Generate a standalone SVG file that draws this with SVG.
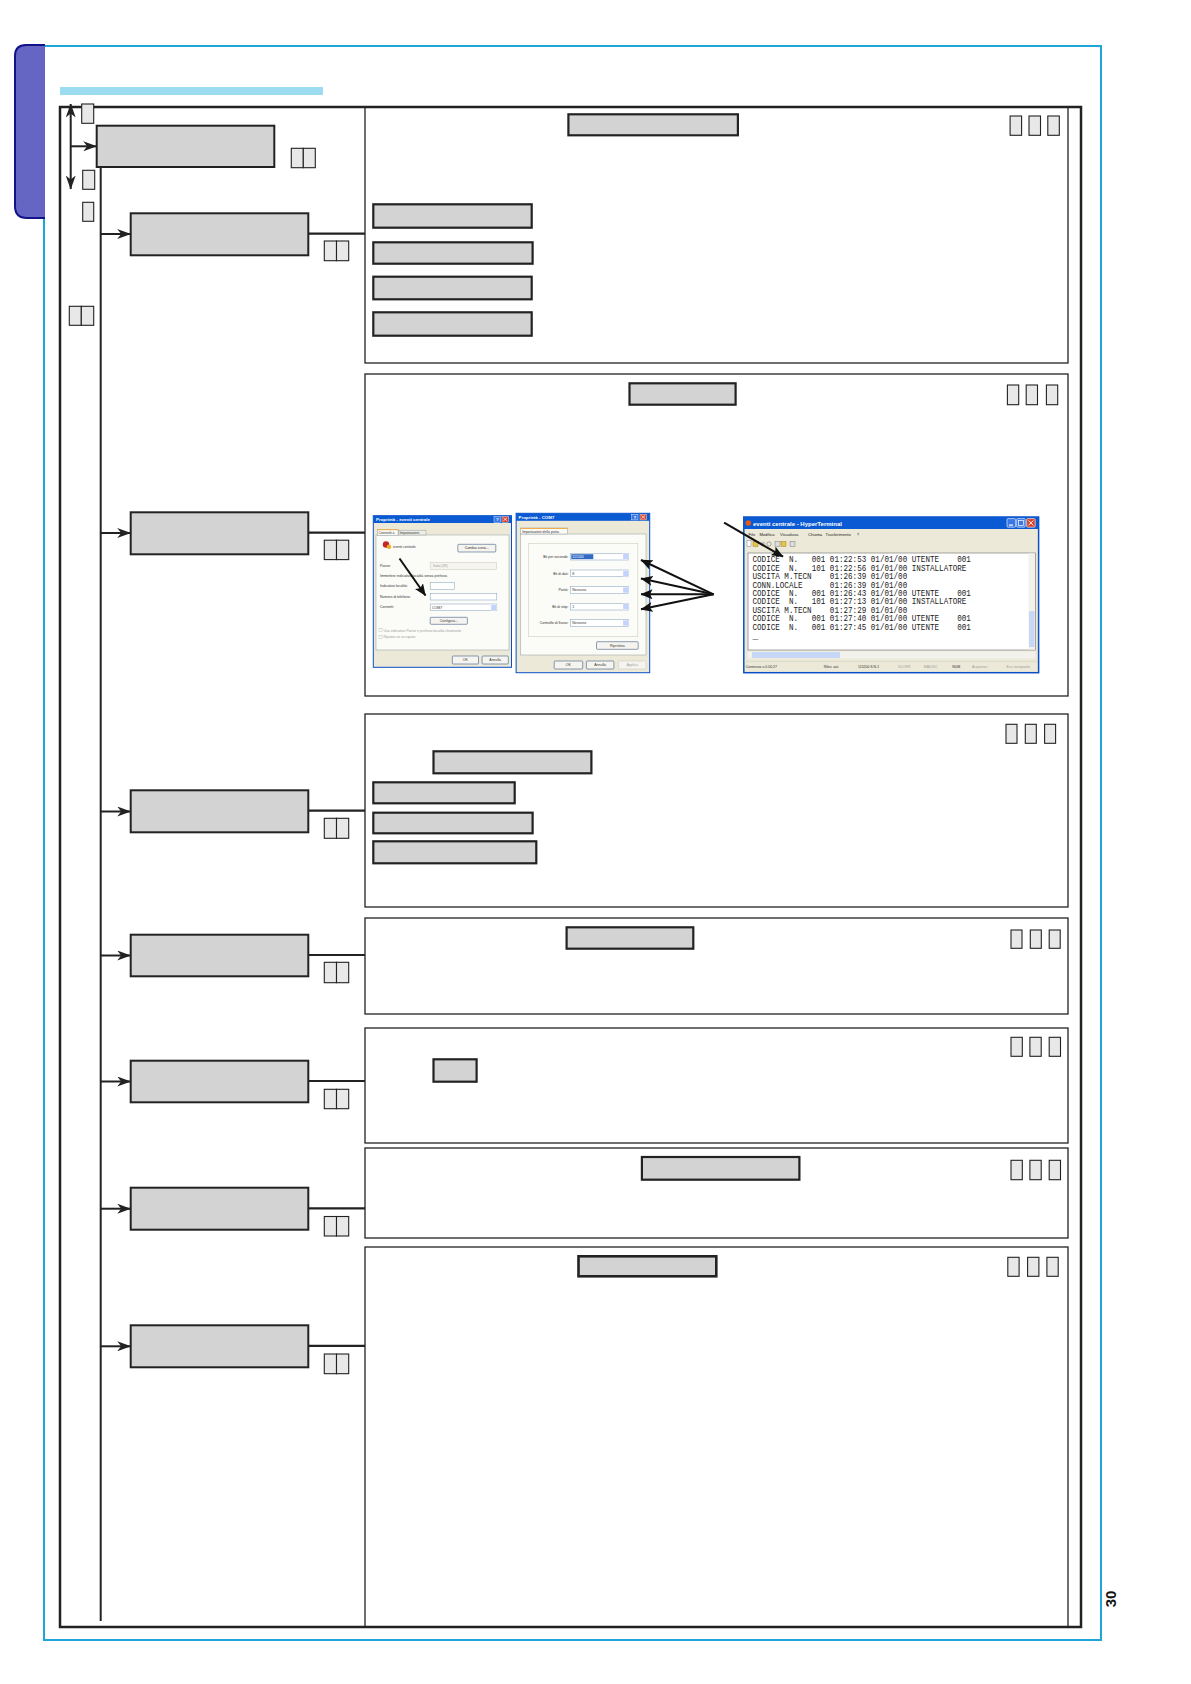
<svg xmlns="http://www.w3.org/2000/svg" width="1191" height="1684" viewBox="0 0 1191 1684">
<defs>
<style>
.node{fill:#d3d3d3;stroke:#222;stroke-width:2}
.btn{fill:#d3d3d3;stroke:#222;stroke-width:2.2}
.sm{fill:#e8e8e8;stroke:#222;stroke-width:1.1}
.panel{fill:none;stroke:#222;stroke-width:1.3}
.line{stroke:#222;stroke-width:2;fill:none}
.ptr{stroke:#111;stroke-width:2;fill:none}
.win{fill:#ece9d8;stroke:#0b4fc4;stroke-width:1}
.tbar{fill:#0a5ad4}
.ttl{font-family:"Liberation Sans",Arial,sans-serif;font-size:4.4px;font-weight:bold;fill:#fff}
.ui{font-family:"Liberation Sans",Arial,sans-serif;font-size:3.5px;fill:#333}
.uig{font-family:"Liberation Sans",Arial,sans-serif;font-size:3.5px;fill:#a0a0a0}
.mn{font-family:"Liberation Sans",Arial,sans-serif;font-size:4.1px;fill:#222}
.xpb{fill:#f5f4ef;stroke:#1f3f73;stroke-width:0.5}
.fld{fill:#fff;stroke:#7f9db9;stroke-width:0.5}
.dd{fill:#c3d3fd;stroke:#fff;stroke-width:0.3}
.tab{fill:#fbfbf8;stroke:#919b9c;stroke-width:0.5}
.term{font-family:"Liberation Mono","DejaVu Sans Mono",monospace;font-size:9.5px;fill:#1a1a1a;white-space:pre}
.pg{font-family:"Liberation Sans",Arial,sans-serif;font-size:15px;font-weight:bold;fill:#111}
</style>
<marker id="ah" viewBox="0 0 14 10" refX="13.5" refY="5" markerWidth="14" markerHeight="10" markerUnits="userSpaceOnUse" orient="auto-start-reverse"><path d="M0,0 L14,5 L0,10 L4,5 Z" fill="#222"/></marker>
<marker id="ah2" viewBox="0 0 12 10" refX="11.5" refY="5" markerWidth="12" markerHeight="10" markerUnits="userSpaceOnUse" orient="auto"><path d="M0,0 L12,5 L0,10 L2.5,5 Z" fill="#111"/></marker>
</defs>
<rect x="0" y="0" width="1191" height="1684" fill="#fff"/>

<g id="page-frame">
<rect x="44" y="46" width="1057" height="1594" fill="none" stroke="#1fa6d8" stroke-width="2"/>
<path d="M45,45 L26,45 Q15,45 15,56 L15,206 Q15,218 27,218 L45,218 Z" fill="#6565c3" stroke="none"/>
<path d="M45,45 L26,45 Q15,45 15,56 L15,206 Q15,218 27,218 L45,218" fill="none" stroke="#12128a" stroke-width="2"/>
<rect x="60" y="87" width="263" height="8" fill="#9bdcf1"/>
<rect x="60" y="107" width="1021" height="1520" fill="none" stroke="#222" stroke-width="2.5"/>
<text class="pg" transform="translate(1116,1599) rotate(-90)" text-anchor="middle">30</text>
</g>

<g id="panel1">
<rect class="panel" x="365" y="107" width="703" height="256"/>
<rect class="btn" x="568.4" y="114.3" width="169.5" height="21"/>
<rect class="sm" x="1010.1" y="116" width="11.5" height="19.3"/>
<rect class="sm" x="1029" y="116" width="11.5" height="19.3"/>
<rect class="sm" x="1047.8" y="116" width="11.5" height="19.3"/>
<rect class="btn" x="373.3" y="204.3" width="158.4" height="23.4"/>
<rect class="btn" x="373.3" y="242.3" width="159.3" height="21.4"/>
<rect class="btn" x="373.3" y="276.7" width="158.4" height="22.6"/>
<rect class="btn" x="373.3" y="312.3" width="158.4" height="23.4"/>
</g>

<g id="panel2">
<rect class="panel" x="365" y="374" width="703" height="322"/>
<rect class="btn" x="629.5" y="383.3" width="106.1" height="21.4"/>
<rect class="sm" x="1007.4" y="385" width="11.3" height="19.7"/>
<rect class="sm" x="1026.2" y="385" width="11.3" height="19.7"/>
<rect class="sm" x="1046.4" y="385" width="11.3" height="19.7"/>

<g id="win1">
<rect class="win" x="373.3" y="515.7" width="138.2" height="151.6"/>
<rect class="tbar" x="373.3" y="515.7" width="138.2" height="7.3"/>
<text class="ttl" x="376" y="521.2">Proprietà - eventi centrale</text>
<rect x="494" y="516.5" width="6.5" height="5.7" fill="#3a77e6" stroke="#fff" stroke-width="0.4"/>
<text class="ttl" x="497.25" y="521.2" text-anchor="middle">?</text>
<rect x="502" y="516.5" width="6.5" height="5.7" fill="#d8442a" stroke="#fff" stroke-width="0.4"/>
<path d="M503.4,517.8 L507.1,520.9 M507.1,517.8 L503.4,520.9" stroke="#fff" stroke-width="0.7"/>
<rect class="tab" x="376" y="535" width="133" height="115"/>
<rect class="tab" x="377.4" y="529.3" width="20.7" height="5.9"/>
<rect x="377.4" y="529.3" width="20.7" height="0.9" fill="#f2a83a"/>
<text class="ui" x="378.6" y="533.9">Connetti a</text>
<rect x="398.5" y="530.2" width="27.5" height="4.8" fill="#efeee6" stroke="#919b9c" stroke-width="0.5"/>
<text class="ui" x="399.6" y="534">Impostazioni</text>
<circle cx="386" cy="544.5" r="3.2" fill="#c62828"/>
<circle cx="389" cy="546.8" r="2.2" fill="#e8b020"/>
<text class="ui" x="393" y="548.3">eventi centrale</text>
<rect class="xpb" x="457.8" y="544.3" width="38" height="7.7" rx="1"/>
<text class="ui" x="476.8" y="549.4" text-anchor="middle">Cambia icona...</text>
<text class="ui" x="380" y="567.3">Paese:</text>
<rect x="430.2" y="562.7" width="66.2" height="6.6" fill="#f5f4ee" stroke="#c9c7ba" stroke-width="0.5"/>
<text class="uig" x="433" y="567.3">Italia (39)</text>
<text class="ui" x="380" y="577">Immettere indicativo località senza prefisso.</text>
<text class="ui" x="380" y="587.3">Indicativo località:</text>
<rect class="fld" x="430.2" y="582.7" width="24.4" height="6.6"/>
<text class="ui" x="380" y="597.7">Numero di telefono:</text>
<rect class="fld" x="430.2" y="593.3" width="66.6" height="6.7"/>
<text class="ui" x="380" y="608">Connetti:</text>
<rect class="fld" x="430.2" y="604" width="66.6" height="6.7"/>
<text class="ui" x="432" y="608.6">COM7</text>
<rect class="dd" x="491" y="604.5" width="5.4" height="5.7"/>
<rect class="xpb" x="430.2" y="617.3" width="37.2" height="7" rx="1"/>
<text class="ui" x="448.8" y="622" text-anchor="middle">Configura...</text>
<rect x="379" y="628.8" width="3" height="3" fill="#fff" stroke="#b0b0b0" stroke-width="0.4"/>
<text class="uig" x="383.5" y="631.7">Usa indicativo Paese e prefisso località chiamante</text>
<rect x="379" y="635.4" width="3" height="3" fill="#fff" stroke="#b0b0b0" stroke-width="0.4"/>
<text class="uig" x="383.5" y="638.3">Riprova se occupato</text>
<rect class="xpb" x="452.3" y="656" width="26.2" height="8" rx="1"/>
<text class="ui" x="465.4" y="661.2" text-anchor="middle">OK</text>
<rect class="xpb" x="482.1" y="656" width="26.2" height="8" rx="1"/>
<text class="ui" x="495.2" y="661.2" text-anchor="middle">Annulla</text>
</g>

<g id="win2">
<rect class="win" x="516.1" y="513.3" width="133.6" height="159.4"/>
<rect class="tbar" x="516.1" y="513.3" width="133.6" height="7.5"/>
<text class="ttl" x="518.5" y="519">Proprietà - COM7</text>
<rect x="631.5" y="514.2" width="6.5" height="5.7" fill="#3a77e6" stroke="#fff" stroke-width="0.4"/>
<text class="ttl" x="634.75" y="519" text-anchor="middle">?</text>
<rect x="640" y="514.2" width="6.5" height="5.7" fill="#d8442a" stroke="#fff" stroke-width="0.4"/>
<path d="M641.4,515.5 L645.1,518.6 M645.1,515.5 L641.4,518.6" stroke="#fff" stroke-width="0.7"/>
<rect class="tab" x="520.7" y="534" width="125.3" height="121"/>
<rect class="tab" x="520.7" y="528" width="46.8" height="6"/>
<rect x="520.7" y="528" width="46.8" height="0.9" fill="#f2a83a"/>
<text class="ui" x="522" y="532.6">Impostazioni della porta</text>
<rect x="528.5" y="543.3" width="109.3" height="93.4" fill="none" stroke="#d0d0bf" stroke-width="0.6"/>
<text class="ui" x="568.5" y="558" text-anchor="end">Bit per secondo:</text>
<text class="ui" x="568.5" y="574.7" text-anchor="end">Bit di dati:</text>
<text class="ui" x="568.5" y="591.4" text-anchor="end">Parità:</text>
<text class="ui" x="568.5" y="608" text-anchor="end">Bit di stop:</text>
<text class="ui" x="568.5" y="624.4" text-anchor="end">Controllo di flusso:</text>
<rect class="fld" x="570.3" y="553.3" width="58.3" height="6.7"/>
<rect x="571.3" y="554.2" width="22" height="4.9" fill="#316ac5"/>
<text class="ui" x="572.3" y="558" style="fill:#fff">115200</text>
<rect class="dd" x="623" y="553.8" width="5.2" height="5.7"/>
<rect class="fld" x="570.3" y="570" width="58.3" height="6.7"/>
<text class="ui" x="572.3" y="574.7">8</text>
<rect class="dd" x="623" y="570.5" width="5.2" height="5.7"/>
<rect class="fld" x="570.3" y="586.7" width="58.3" height="6.7"/>
<text class="ui" x="572.3" y="591.4">Nessuno</text>
<rect class="dd" x="623" y="587.2" width="5.2" height="5.7"/>
<rect class="fld" x="570.3" y="603.3" width="58.3" height="6.7"/>
<text class="ui" x="572.3" y="608">1</text>
<rect class="dd" x="623" y="603.8" width="5.2" height="5.7"/>
<rect class="fld" x="570.3" y="619.6" width="58.3" height="6.7"/>
<text class="ui" x="572.3" y="624.4">Nessuno</text>
<rect class="dd" x="623" y="620.1" width="5.2" height="5.7"/>
<rect class="xpb" x="596.5" y="641.7" width="41.7" height="7.6" rx="1"/>
<text class="ui" x="617.3" y="646.7" text-anchor="middle">Ripristina</text>
<rect class="xpb" x="554.2" y="661" width="28.5" height="8" rx="1"/>
<text class="ui" x="568.4" y="666.2" text-anchor="middle">OK</text>
<rect class="xpb" x="586.4" y="661" width="27.5" height="8" rx="1"/>
<text class="ui" x="600.1" y="666.2" text-anchor="middle">Annulla</text>
<rect x="618.5" y="661" width="27.5" height="8" rx="1" fill="#f5f4ef" stroke="#c9c7ba" stroke-width="0.5"/>
<text class="uig" x="632.2" y="666.2" text-anchor="middle">Applica</text>
</g>

<g id="win3">
<rect x="743.8" y="517" width="294.8" height="155.7" fill="#ece9d8" stroke="#0b4fc4" stroke-width="1.5"/>
<rect class="tbar" x="743.8" y="517" width="294.8" height="12"/>
<circle cx="748.3" cy="523" r="2.8" fill="#e05a1e"/>
<text class="ttl" x="753" y="525.6" style="font-size:6px">eventi centrale - HyperTerminal</text>
<rect x="1007" y="518.6" width="8.6" height="8.6" rx="1" fill="#3a77e6" stroke="#fff" stroke-width="0.6"/>
<rect x="1009" y="524.5" width="4" height="1.2" fill="#fff"/>
<rect x="1016.6" y="518.6" width="8.6" height="8.6" rx="1" fill="#3a77e6" stroke="#fff" stroke-width="0.6"/>
<rect x="1018.4" y="520.4" width="5" height="5" fill="none" stroke="#fff" stroke-width="0.7"/>
<rect x="1026.6" y="518.6" width="8.6" height="8.6" rx="1" fill="#d8442a" stroke="#fff" stroke-width="0.6"/>
<path d="M1028.5,520.5 L1033.3,525.3 M1033.3,520.5 L1028.5,525.3" stroke="#fff" stroke-width="0.9"/>
<text class="mn" x="748.6" y="536">File</text>
<text class="mn" x="759.4" y="536">Modifica</text>
<text class="mn" x="780" y="536">Visualizza</text>
<text class="mn" x="808" y="536">Chiama</text>
<text class="mn" x="825.6" y="536">Trasferimento</text>
<text class="mn" x="856.7" y="536">?</text>
<rect x="747" y="540.5" width="4" height="6" fill="#fff" stroke="#666" stroke-width="0.4"/>
<rect x="753" y="541.5" width="5" height="5" fill="#e6c34a" stroke="#8a6d1a" stroke-width="0.4"/>
<circle cx="763" cy="544" r="2.2" fill="#bbb"/>
<circle cx="769" cy="544" r="2.2" fill="none" stroke="#777" stroke-width="0.6"/>
<rect x="775" y="541.5" width="5" height="5" fill="#dcdcdc" stroke="#666" stroke-width="0.4"/>
<rect x="781" y="541.5" width="5" height="5" fill="#e6c34a" stroke="#8a6d1a" stroke-width="0.4"/>
<rect x="790" y="541.5" width="5" height="5" fill="#dcdcdc" stroke="#666" stroke-width="0.4"/>
<rect x="748" y="553" width="287.5" height="97" fill="#fff" stroke="#7f7f7f" stroke-width="0.7"/>
<rect x="1028.5" y="553.5" width="6.5" height="96" fill="#f3f1ec"/>
<rect x="1029" y="611" width="5.5" height="36" fill="#c7d7f7"/>
<rect x="748" y="651.5" width="287.5" height="7" fill="#f3f1ec"/>
<rect x="752" y="652" width="88" height="6" fill="#c7d7f7"/>
<line x1="744" y1="661.3" x2="1038" y2="661.3" stroke="#c9c7ba" stroke-width="0.5"/>
<text class="ui" x="745.7" y="668">Connesso a 0.00.27</text>
<text class="ui" x="823.7" y="668">Rilev. aut.</text>
<text class="ui" x="858" y="668">115200 8-N-1</text>
<text class="uig" x="898" y="668">SCORR</text>
<text class="uig" x="923.8" y="668">MAIUSC</text>
<text class="ui" x="952.3" y="668">NUM</text>
<text class="uig" x="972" y="668">Acquisisci</text>
<text class="uig" x="1006.5" y="668">Eco stampante</text>
<g id="terminal-text">
<text class="term" xml:space="preserve" x="752.5" y="562.3" textLength="218.4" lengthAdjust="spacingAndGlyphs">CODICE  N.   001 01:22:53 01/01/00 UTENTE    001</text>
<text class="term" xml:space="preserve" x="752.5" y="570.7" textLength="213.9" lengthAdjust="spacingAndGlyphs">CODICE  N.   101 01:22:56 01/01/00 INSTALLATORE</text>
<text class="term" xml:space="preserve" x="752.5" y="579.1" textLength="154.7" lengthAdjust="spacingAndGlyphs">USCITA M.TECN    01:26:39 01/01/00</text>
<text class="term" xml:space="preserve" x="752.5" y="587.6" textLength="154.7" lengthAdjust="spacingAndGlyphs">CONN.LOCALE      01:26:39 01/01/00</text>
<text class="term" xml:space="preserve" x="752.5" y="596" textLength="218.4" lengthAdjust="spacingAndGlyphs">CODICE  N.   001 01:26:43 01/01/00 UTENTE    001</text>
<text class="term" xml:space="preserve" x="752.5" y="604.4" textLength="213.9" lengthAdjust="spacingAndGlyphs">CODICE  N.   101 01:27:13 01/01/00 INSTALLATORE</text>
<text class="term" xml:space="preserve" x="752.5" y="612.8" textLength="154.7" lengthAdjust="spacingAndGlyphs">USCITA M.TECN    01:27:29 01/01/00</text>
<text class="term" xml:space="preserve" x="752.5" y="621.2" textLength="218.4" lengthAdjust="spacingAndGlyphs">CODICE  N.   001 01:27:40 01/01/00 UTENTE    001</text>
<text class="term" xml:space="preserve" x="752.5" y="629.7" textLength="218.4" lengthAdjust="spacingAndGlyphs">CODICE  N.   001 01:27:45 01/01/00 UTENTE    001</text>
<text class="term" x="752.5" y="639">_</text>
</g>
</g>

<g id="pointers">
<line class="ptr" x1="399.5" y1="558.5" x2="425.5" y2="595.5" marker-end="url(#ah2)"/>
<line class="ptr" x1="713.5" y1="594.3" x2="641" y2="560" marker-end="url(#ah2)"/>
<line class="ptr" x1="713.5" y1="594.3" x2="641" y2="578.5" marker-end="url(#ah2)"/>
<line class="ptr" x1="713.5" y1="594.3" x2="641" y2="594.3" marker-end="url(#ah2)"/>
<line class="ptr" x1="713.5" y1="594.3" x2="641" y2="609.3" marker-end="url(#ah2)"/>
<line class="ptr" x1="724.1" y1="522.7" x2="783" y2="556.7" marker-end="url(#ah2)"/>
</g>
</g>

<g id="panel3">
<rect class="panel" x="365" y="714" width="703" height="193"/>
<rect class="sm" x="1006" y="724.3" width="11" height="19"/>
<rect class="sm" x="1025.3" y="724.3" width="11" height="19"/>
<rect class="sm" x="1044.6" y="724.3" width="11" height="19"/>
<rect class="btn" x="433.5" y="751.3" width="157.9" height="22"/>
<rect class="btn" x="373.3" y="782.3" width="141.4" height="21"/>
<rect class="btn" x="373.3" y="812.7" width="159.3" height="20.6"/>
<rect class="btn" x="373.3" y="841.3" width="163" height="22"/>
</g>

<g id="panel4">
<rect class="panel" x="365" y="918" width="703" height="96"/>
<rect class="btn" x="566.6" y="927.3" width="126.7" height="21.4"/>
<rect class="sm" x="1011" y="930" width="11" height="18.3"/>
<rect class="sm" x="1030.3" y="930" width="11" height="18.3"/>
<rect class="sm" x="1049.2" y="930" width="11" height="18.3"/>
</g>

<g id="panel5">
<rect class="panel" x="365" y="1028" width="703" height="115"/>
<rect class="btn" x="433.5" y="1059.3" width="43.1" height="22.4"/>
<rect class="sm" x="1011" y="1037.3" width="11.3" height="19"/>
<rect class="sm" x="1029.9" y="1037.3" width="11.3" height="19"/>
<rect class="sm" x="1049.2" y="1037.3" width="11.3" height="19"/>
</g>

<g id="panel6">
<rect class="panel" x="365" y="1148" width="703" height="90"/>
<rect class="btn" x="641.9" y="1157" width="157.5" height="22.7"/>
<rect class="sm" x="1011" y="1160.3" width="11.3" height="19.4"/>
<rect class="sm" x="1029.9" y="1160.3" width="11.3" height="19.4"/>
<rect class="sm" x="1049.2" y="1160.3" width="11.3" height="19.4"/>
</g>

<g id="panel7">
<rect class="panel" x="365" y="1247" width="703" height="380"/>
<rect class="btn" x="578.5" y="1256.3" width="137.8" height="20" style="stroke-width:2.6"/>
<rect class="sm" x="1007.8" y="1257.3" width="11.3" height="19"/>
<rect class="sm" x="1027.6" y="1257.3" width="11.3" height="19"/>
<rect class="sm" x="1046.9" y="1257.3" width="11.3" height="19"/>
</g>

<g id="connectors">
<line class="line" x1="100.7" y1="167" x2="100.7" y2="1621"/>
<line class="line" x1="70.7" y1="104" x2="70.7" y2="189" marker-start="url(#ah)" marker-end="url(#ah)"/>
<line class="line" x1="70.7" y1="146.3" x2="96.7" y2="146.3" marker-end="url(#ah)"/>
<line class="line" x1="100.7" y1="234" x2="130.7" y2="234" marker-end="url(#ah)"/>
<line class="line" x1="100.7" y1="533" x2="130.7" y2="533" marker-end="url(#ah)"/>
<line class="line" x1="100.7" y1="811.5" x2="130.7" y2="811.5" marker-end="url(#ah)"/>
<line class="line" x1="100.7" y1="955.5" x2="130.7" y2="955.5" marker-end="url(#ah)"/>
<line class="line" x1="100.7" y1="1081.5" x2="130.7" y2="1081.5" marker-end="url(#ah)"/>
<line class="line" x1="100.7" y1="1208.7" x2="130.7" y2="1208.7" marker-end="url(#ah)"/>
<line class="line" x1="100.7" y1="1346.3" x2="130.7" y2="1346.3" marker-end="url(#ah)"/>
<line class="line" x1="308.3" y1="233.7" x2="365" y2="233.7" style="stroke-width:2.2"/>
<line class="line" x1="308.3" y1="532.7" x2="365" y2="532.7" style="stroke-width:2.2"/>
<line class="line" x1="308.3" y1="810.7" x2="365" y2="810.7" style="stroke-width:2.2"/>
<line class="line" x1="308.3" y1="955" x2="365" y2="955" style="stroke-width:2.2"/>
<line class="line" x1="308.3" y1="1081" x2="365" y2="1081" style="stroke-width:2.2"/>
<line class="line" x1="308.3" y1="1208.3" x2="365" y2="1208.3" style="stroke-width:2.2"/>
<line class="line" x1="308.3" y1="1345.8" x2="365" y2="1345.8" style="stroke-width:2.2"/>
</g>

<g id="node0">
<rect class="node" x="96.7" y="125.7" width="177.6" height="41.3"/>
<rect class="sm" x="291.3" y="148.3" width="12" height="19.4"/>
<rect class="sm" x="303.3" y="148.3" width="12" height="19.4"/>
</g>
<g id="marks-left">
<rect class="sm" x="81.7" y="104" width="12" height="19.3"/>
<rect class="sm" x="82.7" y="170.3" width="12" height="19"/>
<rect class="sm" x="82.7" y="202.3" width="11" height="19"/>
<rect class="sm" x="69.3" y="306.3" width="12" height="19"/>
<rect class="sm" x="81.3" y="306.3" width="12.4" height="19"/>
</g>
<g id="node1">
<rect class="node" x="130.7" y="213.3" width="177.6" height="42"/>
<rect class="sm" x="324.3" y="241" width="12.2" height="19.7"/>
<rect class="sm" x="336.5" y="241" width="12.2" height="19.7"/>
</g>
<g id="node2">
<rect class="node" x="130.7" y="512.3" width="177.6" height="42"/>
<rect class="sm" x="324.3" y="540.2" width="12.2" height="19.4"/>
<rect class="sm" x="336.5" y="540.2" width="12.2" height="19.4"/>
</g>
<g id="node3">
<rect class="node" x="130.7" y="790.3" width="177.6" height="42"/>
<rect class="sm" x="324.3" y="818.3" width="12.2" height="20"/>
<rect class="sm" x="336.5" y="818.3" width="12.2" height="20"/>
</g>
<g id="node4">
<rect class="node" x="130.7" y="934.7" width="177.6" height="41.6"/>
<rect class="sm" x="324.3" y="962.3" width="12.2" height="20.4"/>
<rect class="sm" x="336.5" y="962.3" width="12.2" height="20.4"/>
</g>
<g id="node5">
<rect class="node" x="130.7" y="1060.7" width="177.6" height="41.6"/>
<rect class="sm" x="324.3" y="1089.3" width="12.2" height="19.4"/>
<rect class="sm" x="336.5" y="1089.3" width="12.2" height="19.4"/>
</g>
<g id="node6">
<rect class="node" x="130.7" y="1187.7" width="177.6" height="42"/>
<rect class="sm" x="324.3" y="1216.5" width="12.2" height="19.5"/>
<rect class="sm" x="336.5" y="1216.5" width="12.2" height="19.5"/>
</g>
<g id="node7">
<rect class="node" x="130.7" y="1325.3" width="177.6" height="42"/>
<rect class="sm" x="324.3" y="1354" width="12.2" height="19.7"/>
<rect class="sm" x="336.5" y="1354" width="12.2" height="19.7"/>
</g>
</svg>
